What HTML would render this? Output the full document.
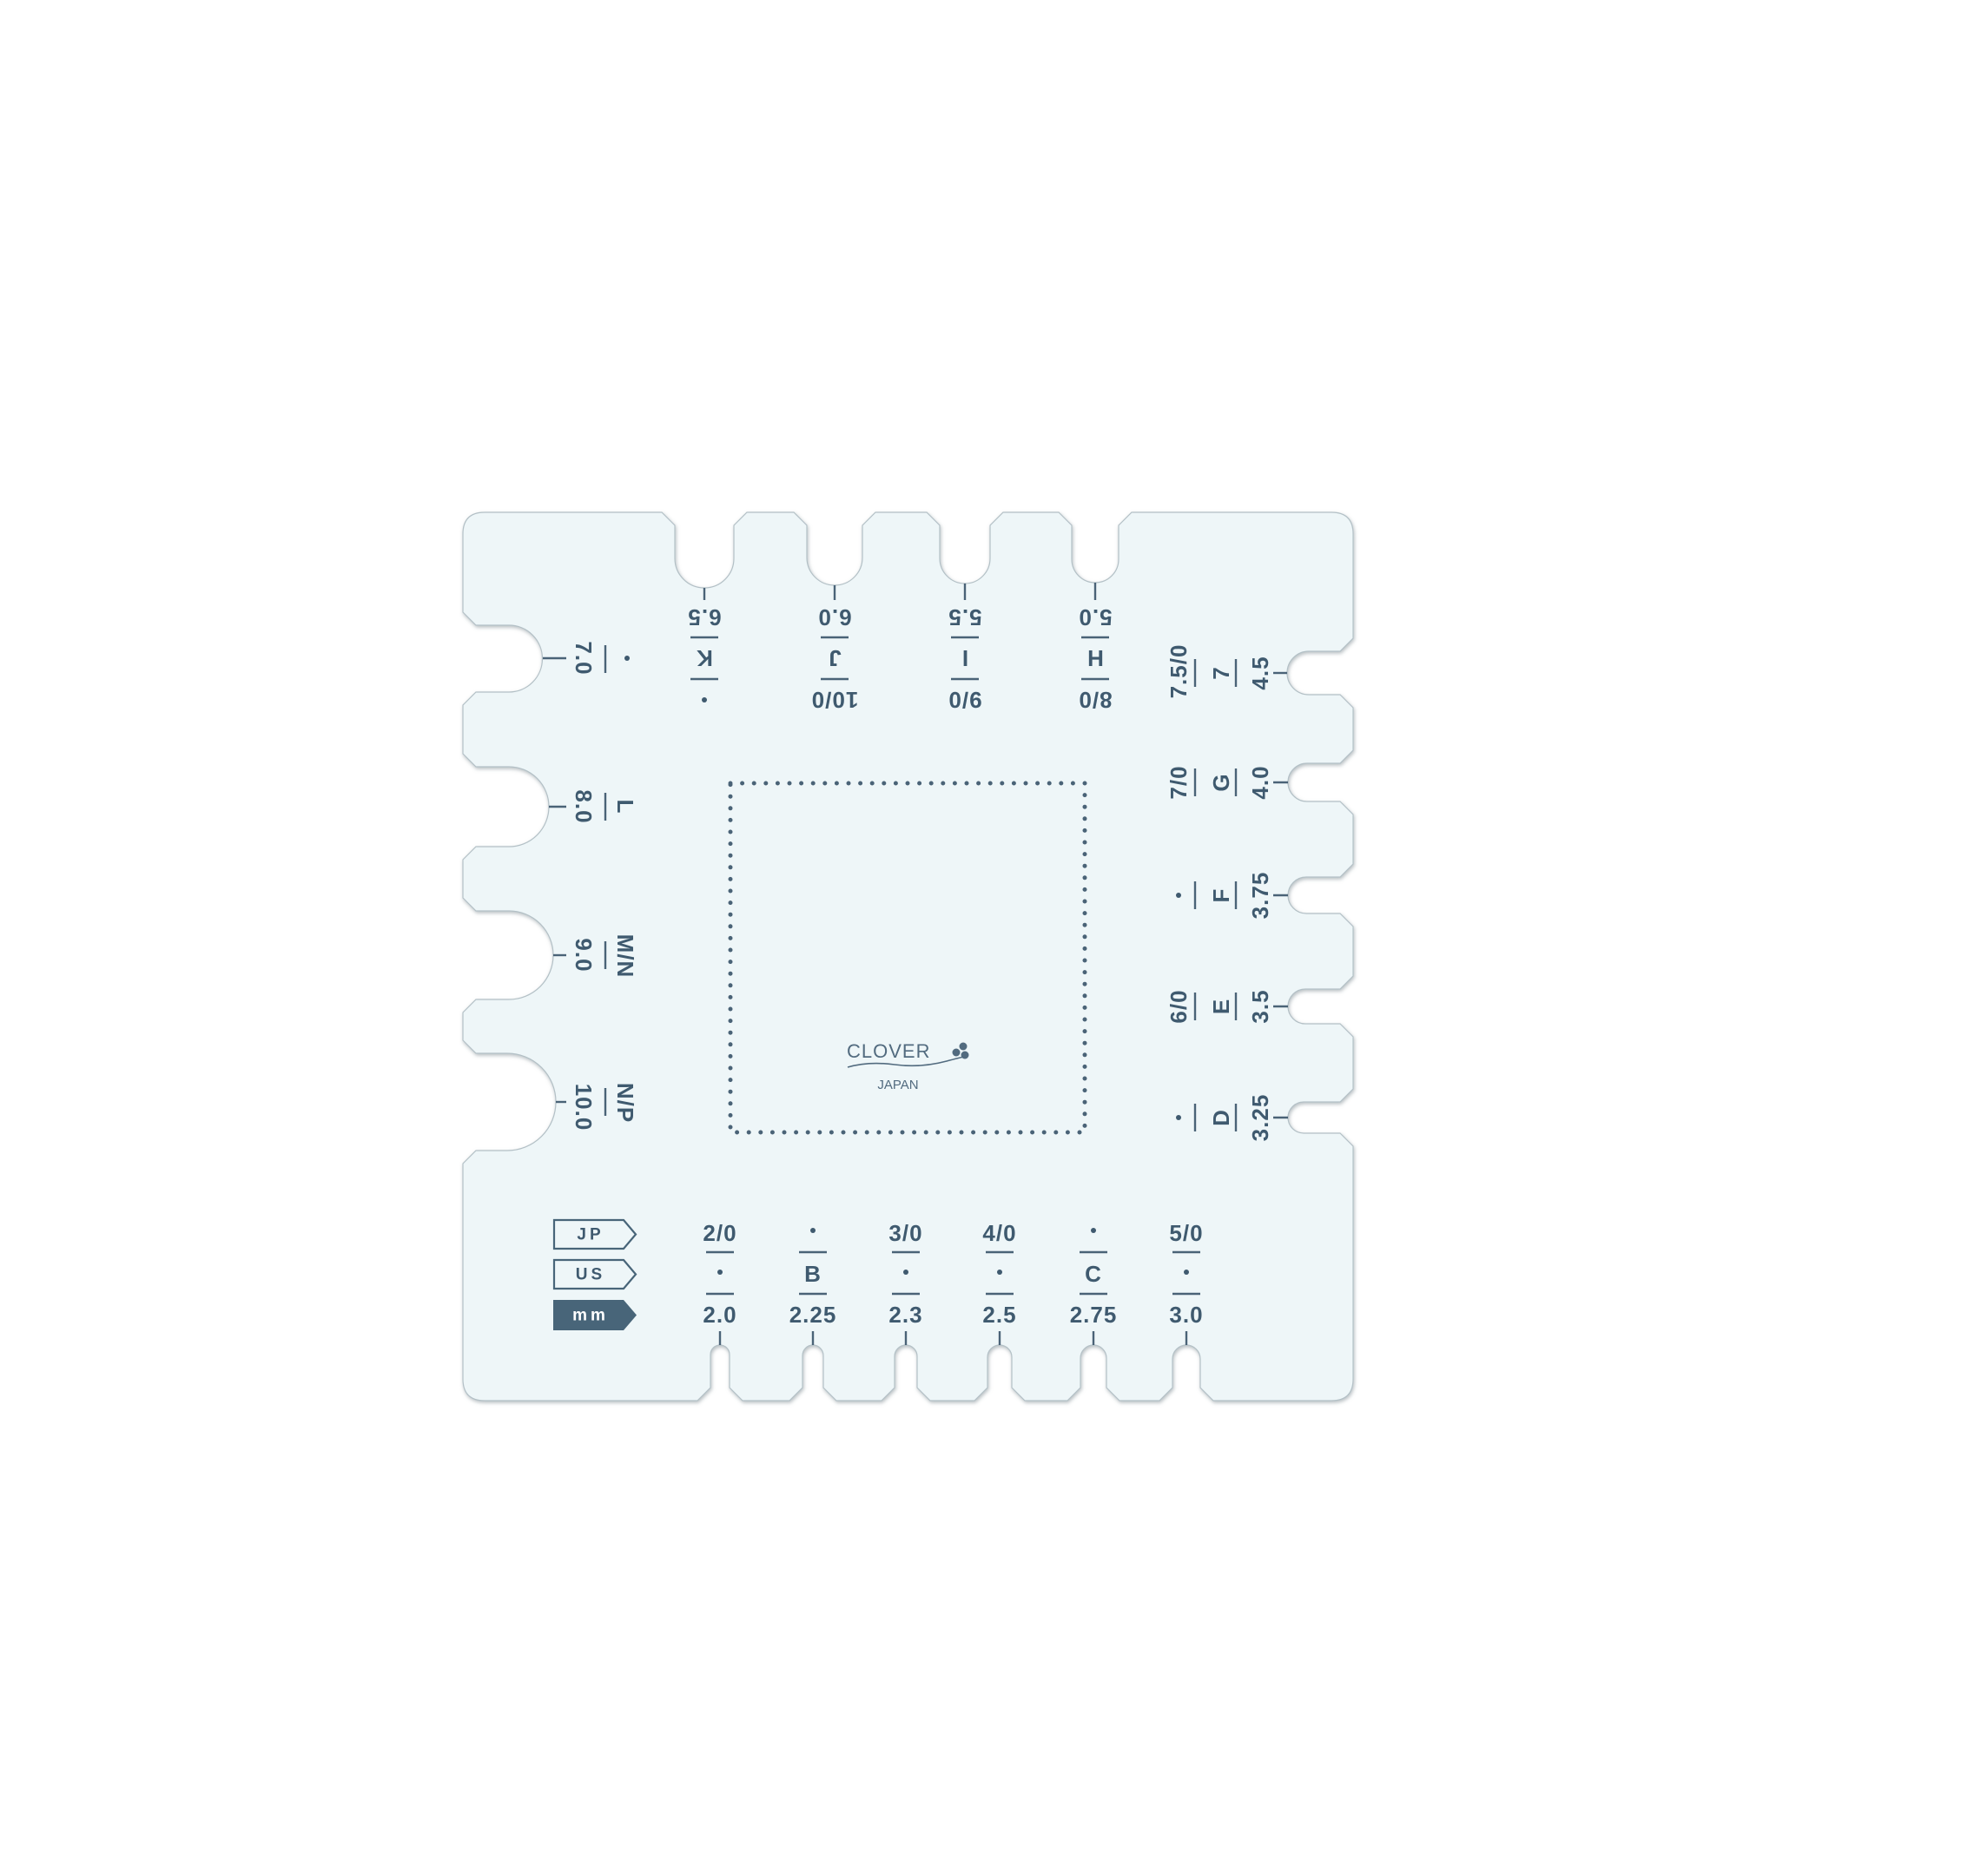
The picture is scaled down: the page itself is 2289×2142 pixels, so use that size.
<!DOCTYPE html>
<html><head><meta charset="utf-8"><style>
html,body{margin:0;padding:0;background:#fff;}
svg{position:absolute;left:0;top:0;}
text{font-family:"Liberation Sans",sans-serif;font-weight:bold;fill:#3f5a6f;}
</style></head><body>
<svg width="2289" height="2142" viewBox="0 0 2289 2142" xmlns="http://www.w3.org/2000/svg">
<defs>
<filter id="sh" x="-5%" y="-5%" width="110%" height="110%">
<feDropShadow dx="1" dy="2" stdDeviation="2" flood-color="#7d8b92" flood-opacity="0.55"/>
</filter>
</defs>
<path filter="url(#sh)" fill="#eef6f8" stroke="#b3c0c6" stroke-width="1.2" d="
M 558 590
L 762 590 L 777 605 L 777 643 A 34 34 0 0 0 845 643 L 845 605 L 860 590
L 914 590 L 929 605 L 929 642 A 32 32 0 0 0 993 642 L 993 605 L 1008 590
L 1067 590 L 1082 605 L 1082 643 A 29 29 0 0 0 1140 643 L 1140 605 L 1155 590
L 1219 590 L 1234 605 L 1234 644 A 27 27 0 0 0 1288 644 L 1288 605 L 1303 590
L 1533 590 Q 1558 590 1558 615
L 1558 735 L 1543 750 L 1507 750 A 25 25 0 0 0 1507 800 L 1543 800 L 1558 815
L 1558 864 L 1543 879 L 1505 879 A 22 22 0 0 0 1505 923 L 1543 923 L 1558 938
L 1558 995 L 1543 1010 L 1504 1010 A 21 21 0 0 0 1504 1052 L 1543 1052 L 1558 1067
L 1558 1124 L 1543 1139 L 1503 1139 A 20 20 0 0 0 1503 1179 L 1543 1179 L 1558 1194
L 1558 1254 L 1543 1269 L 1501 1269 A 18 18 0 0 0 1501 1305 L 1543 1305 L 1558 1320
L 1558 1588 Q 1558 1613 1533 1613
L 1397 1613 L 1382 1598 L 1382 1565 A 16 16 0 0 0 1350 1565 L 1350 1598 L 1335 1613
L 1289 1613 L 1274 1598 L 1274 1564 A 15 15 0 0 0 1244 1564 L 1244 1598 L 1229 1613
L 1180 1613 L 1165 1598 L 1165 1563 A 14 14 0 0 0 1137 1563 L 1137 1598 L 1122 1613
L 1071 1613 L 1056 1598 L 1056 1562 A 13 13 0 0 0 1030 1562 L 1030 1598 L 1015 1613
L 963 1613 L 948 1598 L 948 1561 A 12 12 0 0 0 924 1561 L 924 1598 L 909 1613
L 855 1613 L 840 1598 L 840 1560 A 11 11 0 0 0 818 1560 L 818 1598 L 803 1613
L 558 1613 Q 533 1613 533 1588
L 533 1340 L 548 1325 L 584 1325 A 56 56 0 0 0 584 1213 L 548 1213 L 533 1198
L 533 1166 L 548 1151 L 586 1151 A 50.5 50.5 0 0 0 586 1049 L 548 1049 L 533 1034
L 533 990 L 548 975 L 586 975 A 46 46 0 0 0 586 883 L 548 883 L 533 868
L 533 812 L 548 797 L 586 797 A 38.5 38.5 0 0 0 586 720 L 548 720 L 533 705
L 533 615 Q 533 590 558 590 Z"/>

<rect x="841" y="902" width="408" height="402" fill="none" stroke="#4a6377" stroke-width="5" stroke-linecap="round" stroke-dasharray="0 13.6"/>

<g stroke="#4a6377" stroke-width="2.4">
<line x1="811" y1="677" x2="811" y2="691"/><line x1="795" y1="734" x2="827" y2="734"/><line x1="795" y1="782" x2="827" y2="782"/>
<line x1="961" y1="674" x2="961" y2="691"/><line x1="945" y1="734" x2="977" y2="734"/><line x1="945" y1="782" x2="977" y2="782"/>
<line x1="1111" y1="672" x2="1111" y2="691"/><line x1="1095" y1="734" x2="1127" y2="734"/><line x1="1095" y1="782" x2="1127" y2="782"/>
<line x1="1261" y1="671" x2="1261" y2="691"/><line x1="1245" y1="734" x2="1277" y2="734"/><line x1="1245" y1="782" x2="1277" y2="782"/>
<line x1="625" y1="758" x2="652" y2="758"/><line x1="697" y1="743" x2="697" y2="775"/>
<line x1="632" y1="929" x2="652" y2="929"/><line x1="697" y1="913" x2="697" y2="945"/>
<line x1="637" y1="1100" x2="652" y2="1100"/><line x1="697" y1="1084" x2="697" y2="1116"/>
<line x1="640" y1="1269" x2="652" y2="1269"/><line x1="697" y1="1253" x2="697" y2="1285"/>
<line x1="1466" y1="775" x2="1482" y2="775"/><line x1="1423" y1="759" x2="1423" y2="791"/><line x1="1376" y1="759" x2="1376" y2="791"/>
<line x1="1466" y1="901" x2="1483" y2="901"/><line x1="1423" y1="885" x2="1423" y2="917"/><line x1="1376" y1="885" x2="1376" y2="917"/>
<line x1="1466" y1="1031" x2="1483" y2="1031"/><line x1="1423" y1="1015" x2="1423" y2="1047"/><line x1="1376" y1="1015" x2="1376" y2="1047"/>
<line x1="1466" y1="1159" x2="1483" y2="1159"/><line x1="1423" y1="1143" x2="1423" y2="1175"/><line x1="1376" y1="1143" x2="1376" y2="1175"/>
<line x1="1466" y1="1287" x2="1483" y2="1287"/><line x1="1423" y1="1271" x2="1423" y2="1303"/><line x1="1376" y1="1271" x2="1376" y2="1303"/>
<line x1="829" y1="1533" x2="829" y2="1549"/><line x1="813" y1="1442" x2="845" y2="1442"/><line x1="813" y1="1490" x2="845" y2="1490"/>
<line x1="936" y1="1533" x2="936" y2="1549"/><line x1="920" y1="1442" x2="952" y2="1442"/><line x1="920" y1="1490" x2="952" y2="1490"/>
<line x1="1043" y1="1533" x2="1043" y2="1549"/><line x1="1027" y1="1442" x2="1059" y2="1442"/><line x1="1027" y1="1490" x2="1059" y2="1490"/>
<line x1="1151" y1="1533" x2="1151" y2="1549"/><line x1="1135" y1="1442" x2="1167" y2="1442"/><line x1="1135" y1="1490" x2="1167" y2="1490"/>
<line x1="1259" y1="1533" x2="1259" y2="1549"/><line x1="1243" y1="1442" x2="1275" y2="1442"/><line x1="1243" y1="1490" x2="1275" y2="1490"/>
<line x1="1366" y1="1533" x2="1366" y2="1549"/><line x1="1350" y1="1442" x2="1382" y2="1442"/><line x1="1350" y1="1490" x2="1382" y2="1490"/>
</g>

<g font-size="26" text-anchor="middle" dominant-baseline="central" letter-spacing="1">
<text x="811" y="711" transform="rotate(180 811 711)">6.5</text>
<text x="811" y="758" transform="rotate(180 811 758)">K</text>
<text x="961" y="711" transform="rotate(180 961 711)">6.0</text>
<text x="961" y="758" transform="rotate(180 961 758)">J</text>
<text x="961" y="806" transform="rotate(180 961 806)">10/0</text>
<text x="1111" y="711" transform="rotate(180 1111 711)">5.5</text>
<text x="1111" y="758" transform="rotate(180 1111 758)">I</text>
<text x="1111" y="806" transform="rotate(180 1111 806)">9/0</text>
<text x="1261" y="711" transform="rotate(180 1261 711)">5.0</text>
<text x="1261" y="758" transform="rotate(180 1261 758)">H</text>
<text x="1261" y="806" transform="rotate(180 1261 806)">8/0</text>
<text x="672" y="758" transform="rotate(90 672 758)">7.0</text>
<text x="672" y="929" transform="rotate(90 672 929)">8.0</text>
<text x="720" y="929" transform="rotate(90 720 929)">L</text>
<text x="672" y="1100" transform="rotate(90 672 1100)">9.0</text>
<text x="720" y="1101" transform="rotate(90 720 1101)">M/N</text>
<text x="672" y="1275" transform="rotate(90 672 1275)">10.0</text>
<text x="720" y="1270" transform="rotate(90 720 1270)">N/P</text>
<text x="1451" y="775" transform="rotate(-90 1451 775)">4.5</text>
<text x="1406" y="775" transform="rotate(-90 1406 775)">7</text>
<text x="1357" y="773" transform="rotate(-90 1357 773)">7.5/0</text>
<text x="1451" y="901" transform="rotate(-90 1451 901)">4.0</text>
<text x="1406" y="901" transform="rotate(-90 1406 901)">G</text>
<text x="1357" y="901" transform="rotate(-90 1357 901)">7/0</text>
<text x="1451" y="1031" transform="rotate(-90 1451 1031)">3.75</text>
<text x="1406" y="1031" transform="rotate(-90 1406 1031)">F</text>
<text x="1451" y="1159" transform="rotate(-90 1451 1159)">3.5</text>
<text x="1406" y="1159" transform="rotate(-90 1406 1159)">E</text>
<text x="1357" y="1159" transform="rotate(-90 1357 1159)">6/0</text>
<text x="1451" y="1287" transform="rotate(-90 1451 1287)">3.25</text>
<text x="1406" y="1287" transform="rotate(-90 1406 1287)">D</text>
<text x="829" y="1420">2/0</text><text x="829" y="1514">2.0</text>
<text x="936" y="1467">B</text><text x="936" y="1514">2.25</text>
<text x="1043" y="1420">3/0</text><text x="1043" y="1514">2.3</text>
<text x="1151" y="1420">4/0</text><text x="1151" y="1514">2.5</text>
<text x="1259" y="1467">C</text><text x="1259" y="1514">2.75</text>
<text x="1366" y="1420">5/0</text><text x="1366" y="1514">3.0</text>
</g>

<g fill="#3f5a6f">
<circle cx="811" cy="806" r="3"/>
<circle cx="722" cy="758" r="3"/>
<circle cx="1357" cy="1031" r="3"/>
<circle cx="1357" cy="1287" r="3"/>
<circle cx="829" cy="1465" r="3"/>
<circle cx="936" cy="1417" r="3"/>
<circle cx="1043" cy="1465" r="3"/>
<circle cx="1151" cy="1465" r="3"/>
<circle cx="1259" cy="1417" r="3"/>
<circle cx="1366" cy="1465" r="3"/>
</g>

<polygon points="638,1405 718,1405 732,1421.5 718,1438 638,1438" fill="none" stroke="#486579" stroke-width="2.2"/>
<polygon points="638,1451 718,1451 732,1467.5 718,1484 638,1484" fill="none" stroke="#486579" stroke-width="2.2"/>
<polygon points="637,1497 718,1497 733,1514.5 718,1532 637,1532" fill="#486579"/>
<g font-size="19" text-anchor="middle" dominant-baseline="central" letter-spacing="4">
<text x="680" y="1422">JP</text>
<text x="680" y="1468">US</text>
<text x="680" y="1515" style="fill:#fff">mm</text>
</g>

<text x="975" y="1218" font-size="22" style="font-weight:normal;fill:#526b7f" letter-spacing="1">CLOVER</text>
<g fill="#526b7f">
<circle cx="1101" cy="1212" r="4.5"/><circle cx="1109" cy="1205" r="4.5"/><circle cx="1111" cy="1215" r="4.5"/>
</g>
<path d="M 976 1229 Q 1000 1222 1030 1226 T 1090 1222 T 1110 1218" fill="none" stroke="#526b7f" stroke-width="1.6"/>
<text x="1034" y="1254" font-size="15" text-anchor="middle" style="font-weight:normal;fill:#526b7f">JAPAN</text>
</svg>
</body></html>
